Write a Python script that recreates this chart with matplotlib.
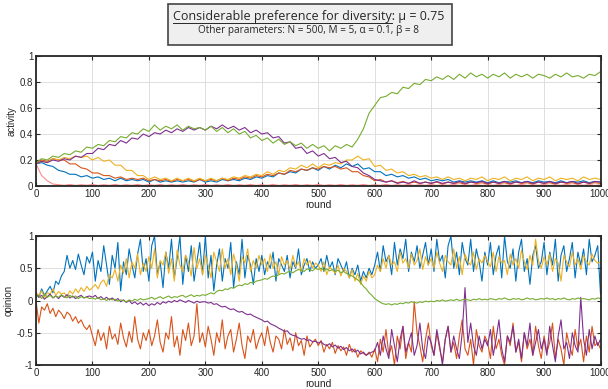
import matplotlib
matplotlib.use("Agg")
import matplotlib.pyplot as plt
from matplotlib.patches import Rectangle
from matplotlib.lines import Line2D
import numpy as np

# --- data (activity every 10 rounds, opinion every 5) ---
rounds_act = np.arange(0, 1001, 10)
rounds_op = np.arange(0, 1001, 5)

act_green = [0.18, 0.21, 0.20, 0.23, 0.22, 0.25, 0.24, 0.27, 0.26, 0.30,
             0.29, 0.32, 0.31, 0.35, 0.34, 0.38, 0.37, 0.41, 0.40, 0.44,
             0.42, 0.47, 0.43, 0.46, 0.44, 0.47, 0.43, 0.46, 0.44, 0.45,
             0.43, 0.46, 0.42, 0.45, 0.41, 0.44, 0.40, 0.42, 0.37, 0.39,
             0.35, 0.37, 0.33, 0.36, 0.32, 0.34, 0.31, 0.33, 0.29, 0.32,
             0.29, 0.31, 0.27, 0.31, 0.29, 0.32, 0.30, 0.36, 0.44, 0.56,
             0.62, 0.68, 0.69, 0.72, 0.71, 0.76, 0.75, 0.79, 0.78, 0.82,
             0.81, 0.84, 0.82, 0.85, 0.82, 0.86, 0.83, 0.87, 0.84, 0.86,
             0.83, 0.86, 0.84, 0.87, 0.83, 0.86, 0.84, 0.86, 0.83, 0.86,
             0.85, 0.83, 0.86, 0.84, 0.87, 0.84, 0.85, 0.83, 0.86, 0.85,
             0.88]
act_purple = [0.17, 0.19, 0.18, 0.20, 0.19, 0.21, 0.20, 0.23, 0.22, 0.25,
              0.25, 0.29, 0.28, 0.32, 0.31, 0.35, 0.33, 0.37, 0.36, 0.40,
              0.38, 0.41, 0.40, 0.43, 0.41, 0.44, 0.42, 0.45, 0.43, 0.45,
              0.43, 0.46, 0.44, 0.47, 0.44, 0.46, 0.43, 0.45, 0.41, 0.43,
              0.40, 0.41, 0.37, 0.38, 0.33, 0.34, 0.29, 0.30, 0.25, 0.27,
              0.23, 0.25, 0.21, 0.22, 0.18, 0.19, 0.15, 0.14, 0.10, 0.08,
              0.05, 0.04, 0.03, 0.04, 0.02, 0.03, 0.02, 0.04, 0.02, 0.03,
              0.02, 0.035, 0.02, 0.03, 0.02, 0.035, 0.02, 0.03, 0.025, 0.035,
              0.02, 0.03, 0.02, 0.035, 0.02, 0.03, 0.025, 0.035, 0.02, 0.03,
              0.02, 0.035, 0.02, 0.03, 0.025, 0.035, 0.02, 0.03, 0.02, 0.035,
              0.03]
act_blue = [0.17, 0.18, 0.16, 0.15, 0.12, 0.11, 0.09, 0.09, 0.07, 0.08,
            0.06, 0.07, 0.05, 0.06, 0.04, 0.06, 0.04, 0.05, 0.04, 0.05,
            0.03, 0.05, 0.03, 0.04, 0.03, 0.04, 0.03, 0.04, 0.03, 0.05,
            0.03, 0.04, 0.03, 0.05, 0.04, 0.05, 0.04, 0.06, 0.05, 0.07,
            0.06, 0.08, 0.07, 0.10, 0.09, 0.11, 0.10, 0.13, 0.12, 0.14,
            0.12, 0.15, 0.13, 0.16, 0.14, 0.17, 0.15, 0.17, 0.13, 0.14,
            0.11, 0.11, 0.08, 0.09, 0.07, 0.08, 0.06, 0.07, 0.05, 0.06,
            0.04, 0.05, 0.04, 0.05, 0.03, 0.04, 0.03, 0.04, 0.03, 0.04,
            0.025, 0.04, 0.025, 0.035, 0.03, 0.04, 0.025, 0.035, 0.025, 0.04,
            0.03, 0.035, 0.025, 0.04, 0.025, 0.035, 0.03, 0.04, 0.025, 0.035,
            0.03]
act_orange = [0.18, 0.20, 0.19, 0.21, 0.20, 0.20, 0.17, 0.17, 0.14, 0.13,
              0.10, 0.10, 0.08, 0.08, 0.06, 0.07, 0.05, 0.06, 0.05, 0.06,
              0.04, 0.05, 0.04, 0.05, 0.035, 0.05, 0.04, 0.05, 0.035, 0.05,
              0.04, 0.05, 0.04, 0.06, 0.04, 0.06, 0.05, 0.07, 0.06, 0.08,
              0.07, 0.09, 0.08, 0.10, 0.09, 0.12, 0.11, 0.13, 0.12, 0.14,
              0.13, 0.15, 0.14, 0.15, 0.13, 0.14, 0.11, 0.11, 0.08, 0.07,
              0.04, 0.05, 0.03, 0.04, 0.025, 0.035, 0.02, 0.03, 0.02, 0.03,
              0.02, 0.03, 0.015, 0.03, 0.02, 0.025, 0.015, 0.03, 0.02, 0.025,
              0.015, 0.03, 0.02, 0.025, 0.015, 0.03, 0.02, 0.025, 0.015, 0.03,
              0.02, 0.025, 0.015, 0.03, 0.02, 0.025, 0.015, 0.03, 0.02, 0.025,
              0.02]
act_yellow = [0.17, 0.19, 0.18, 0.21, 0.20, 0.22, 0.21, 0.23, 0.22, 0.23,
              0.20, 0.22, 0.19, 0.20, 0.16, 0.16, 0.12, 0.12, 0.08, 0.08,
              0.05, 0.07, 0.05, 0.06, 0.04, 0.06, 0.04, 0.06, 0.04, 0.06,
              0.04, 0.06, 0.04, 0.06, 0.05, 0.07, 0.06, 0.08, 0.07, 0.09,
              0.08, 0.11, 0.09, 0.12, 0.11, 0.14, 0.13, 0.16, 0.14, 0.17,
              0.14, 0.17, 0.16, 0.18, 0.17, 0.20, 0.20, 0.23, 0.20, 0.21,
              0.15, 0.16, 0.12, 0.13, 0.10, 0.11, 0.08, 0.09, 0.07, 0.08,
              0.06, 0.07, 0.05, 0.07, 0.05, 0.06, 0.04, 0.06, 0.05, 0.07,
              0.04, 0.06, 0.05, 0.07, 0.04, 0.06, 0.05, 0.07, 0.04, 0.06,
              0.05, 0.07, 0.04, 0.06, 0.05, 0.06, 0.04, 0.07, 0.05, 0.06,
              0.05]
act_pink = [0.17, 0.08, 0.04, 0.015, 0.01, 0.005, 0.012, 0.004, 0.01, 0.005,
            0.012, 0.004, 0.01, 0.005, 0.012, 0.004, 0.01, 0.005, 0.012, 0.004,
            0.01, 0.005, 0.012, 0.004, 0.01, 0.005, 0.012, 0.004, 0.01, 0.005,
            0.012, 0.004, 0.01, 0.005, 0.012, 0.004, 0.01, 0.005, 0.012, 0.004,
            0.01, 0.005, 0.012, 0.004, 0.01, 0.005, 0.012, 0.004, 0.01, 0.005,
            0.012, 0.004, 0.01, 0.005, 0.012, 0.004, 0.01, 0.005, 0.012, 0.004,
            0.01, 0.005, 0.012, 0.004, 0.01, 0.005, 0.012, 0.004, 0.01, 0.005,
            0.012, 0.004, 0.01, 0.005, 0.012, 0.004, 0.01, 0.005, 0.012, 0.004,
            0.01, 0.005, 0.012, 0.004, 0.01, 0.005, 0.012, 0.004, 0.01, 0.005,
            0.012, 0.004, 0.01, 0.005, 0.012, 0.004, 0.01, 0.005, 0.012, 0.004,
            0.01]
act_red = [0.0] * 101

op_blue = [0.10, 0.05, 0.18, 0.08, 0.15, 0.22, 0.12, 0.30, 0.25, 0.38, 0.45, 0.70, 0.50, 0.62, 0.48, 0.72, 0.55, 0.40, 0.68, 0.58,
           0.75, 0.30, 0.62, 0.45, 0.85, 0.55, 0.25, 0.70, 0.50, 0.90, 0.15, 0.60, 0.40, 0.80, 0.55, 0.35, 0.72, 0.95, 0.45, 0.65,
           0.30, 0.85, 1.00, 0.40, 0.60, 0.20, 0.75, 0.50, 0.95, 0.35, 0.65, 1.00, 0.25, 0.70, 0.45, 0.85, 0.30, 0.60, 0.90, 0.40,
           1.00, 0.35, 0.70, 0.15, 0.55, 0.80, 0.30, 0.65, 0.50, 0.90, 0.20, 0.60, 0.40, 0.95, 0.35, 0.70, 0.55, 0.25, 0.65, 0.45,
           0.70, 0.40, 0.60, 0.50, 0.75, 0.30, 0.65, 0.55, 0.45, 0.70, 0.35, 0.60, 0.50, 0.80, 0.40, 0.55, 0.65, 0.45, 0.60, 0.50,
           0.55, 0.65, 0.45, 0.70, 0.50, 0.60, 0.40, 0.65, 0.55, 0.45, 0.60, 0.35, 0.50, 0.40, 0.55, 0.30, 0.45, 0.35, 0.50, 0.40,
           0.55, 0.75, 0.45, 0.85, 0.60, 0.70, 0.40, 0.90, 0.55, 0.80, 0.65, 0.95, 0.45, 0.75, 0.60, 0.85, 0.50, 0.70, 0.90, 0.55,
           0.80, 0.45, 0.95, 0.60, 0.70, 0.35, 0.85, 1.00, 0.50, 0.75, 0.40, 0.90, 0.65, 0.55, 0.95, 0.45, 0.80, 0.60, 0.30, 0.75,
           0.55, 0.90, 0.40, 0.70, 0.85, 0.35, 1.00, 0.60, 0.50, 0.80, 0.30, 0.75, 0.95, 0.45, 0.65, 0.25, 0.70, 0.85, 0.50, 0.60,
           0.90, 0.40, 0.75, 0.55, 0.95, 0.30, 0.70, 0.85, 0.45, 0.65, 0.90, 0.35, 0.75, 0.55, 0.80, 0.40, 0.95, 0.60, 0.70, 0.85,
           0.10]
op_yellow = [0.12, 0.08, 0.15, 0.05, 0.12, 0.10, 0.18, 0.08, 0.14, 0.10, 0.12, 0.06, 0.15, 0.10, 0.18, 0.12, 0.20, 0.14, 0.22, 0.16,
             0.20, 0.25, 0.18, 0.28, 0.32, 0.22, 0.40, 0.35, 0.48, 0.30, 0.55, 0.42, 0.65, 0.35, 0.60, 0.50, 0.72, 0.40, 0.58, 0.45,
             0.68, 0.50, 0.80, 0.35, 0.62, 0.55, 0.75, 0.42, 0.65, 0.30, 0.78, 0.55, 0.45, 0.70, 0.60, 0.38, 0.82, 0.50, 0.65, 0.40,
             0.70, 0.55, 0.35, 0.75, 0.60, 0.45, 0.80, 0.50, 0.65, 0.40, 0.72, 0.55, 0.30, 0.68, 0.58, 0.80, 0.45, 0.62, 0.50, 0.70,
             0.55, 0.65, 0.45, 0.72, 0.50, 0.60, 0.40, 0.68, 0.55, 0.62, 0.48, 0.70, 0.52, 0.60, 0.45, 0.65, 0.55, 0.62, 0.50, 0.58,
             0.55, 0.45, 0.60, 0.40, 0.52, 0.48, 0.42, 0.55, 0.38, 0.50, 0.45, 0.35, 0.48, 0.30, 0.42, 0.25, 0.38, 0.30, 0.45, 0.35,
             0.40, 0.55, 0.45, 0.65, 0.50, 0.70, 0.55, 0.60, 0.45, 0.75, 0.58, 0.65, 0.50, 0.72, 0.55, 0.62, 0.80, 0.48, 0.68, 0.55,
             0.65, 0.50, 0.75, 0.58, 0.45, 0.70, 0.60, 0.55, 0.80, 0.50, 0.68, 0.40, 0.72, 0.60, 0.55, 0.75, 0.48, 0.65, 0.58, 0.70,
             0.60, 0.52, 0.75, 0.45, 0.68, 0.58, 0.62, 0.40, 0.72, 0.55, 0.65, 0.50, 0.78, 0.60, 0.48, 0.70, 0.55, 0.95, 0.62, 0.50,
             0.68, 0.55, 0.72, 0.45, 0.65, 0.58, 0.30, 0.70, 0.60, 0.52, 0.75, 0.55, 0.65, 0.48, 0.70, 0.60, 0.55, 0.72, 0.62, 0.58,
             0.60]
op_green = [0.05, 0.08, 0.03, 0.10, 0.05, 0.08, 0.04, 0.07, 0.05, 0.09, 0.06, 0.04, 0.08, 0.05, 0.07, 0.03, 0.06, 0.04, 0.05, 0.03,
            0.04, 0.02, 0.05, 0.01, 0.03, 0.00, 0.03, 0.01, 0.02, -0.01, 0.01, 0.00, -0.02, 0.01, -0.01, 0.02, 0.00, 0.03, 0.01, 0.02,
            0.03, 0.05, 0.02, 0.04, 0.06, 0.03, 0.05, 0.07, 0.04, 0.06, 0.05, 0.07, 0.08, 0.05, 0.07, 0.09, 0.06, 0.08, 0.07, 0.09,
            0.08, 0.10, 0.12, 0.10, 0.14, 0.16, 0.15, 0.18, 0.17, 0.20, 0.19, 0.22, 0.24, 0.23, 0.26, 0.25, 0.28, 0.27, 0.30, 0.31,
            0.32, 0.34, 0.33, 0.36, 0.38, 0.37, 0.40, 0.42, 0.41, 0.44, 0.45, 0.43, 0.46, 0.48, 0.47, 0.45, 0.49, 0.48, 0.46, 0.50,
            0.48, 0.50, 0.47, 0.49, 0.46, 0.48, 0.45, 0.47, 0.43, 0.45, 0.42, 0.40, 0.38, 0.35, 0.32, 0.28, 0.22, 0.18, 0.12, 0.08,
            0.03, 0.00, -0.03, -0.05, -0.06, -0.05, -0.07, -0.05, -0.06, -0.04, -0.05, -0.03, -0.04, -0.02, -0.03, -0.04, -0.02, -0.03, -0.01, -0.02,
            -0.01, -0.02, 0.00, -0.01, 0.01, -0.01, 0.00, 0.01, 0.00, 0.02, 0.00, 0.01, 0.02, 0.01, 0.00, 0.02, 0.01, 0.03, 0.01, 0.02,
            0.01, 0.03, 0.02, 0.01, 0.03, 0.02, 0.04, 0.02, 0.01, 0.03, 0.02, 0.03, 0.01, 0.02, 0.04, 0.02, 0.03, 0.01, 0.02, 0.03,
            0.02, 0.04, 0.02, 0.03, 0.01, 0.03, 0.02, 0.04, 0.02, 0.01, 0.03, 0.02, 0.04, 0.02, 0.03, 0.02, 0.01, 0.03, 0.02, 0.04,
            0.03]
op_purple = [0.10, 0.05, 0.08, 0.02, 0.06, 0.10, 0.04, 0.07, 0.03, 0.08, 0.05, 0.09, 0.04, 0.07, 0.03, 0.06, 0.08, 0.04, 0.06, 0.07,
             0.05, 0.08, 0.03, 0.06, 0.02, 0.05, 0.01, 0.04, 0.00, 0.03, -0.02, 0.01, -0.03, 0.00, -0.05, -0.02, -0.06, -0.03, -0.07, -0.04,
             -0.08, -0.05, -0.07, -0.03, -0.06, -0.02, -0.04, -0.01, -0.03, 0.00, -0.02, 0.01, -0.01, -0.03, 0.00, -0.02, -0.04, -0.01, -0.03, -0.02,
             -0.02, -0.04, -0.03, -0.06, -0.05, -0.08, -0.10, -0.09, -0.12, -0.14, -0.13, -0.16, -0.18, -0.17, -0.20, -0.22, -0.21, -0.24, -0.26, -0.28,
             -0.30, -0.33, -0.32, -0.36, -0.38, -0.40, -0.43, -0.45, -0.48, -0.47, -0.52, -0.54, -0.55, -0.58, -0.60, -0.59, -0.62, -0.61, -0.64, -0.63,
             -0.66, -0.64, -0.68, -0.70, -0.67, -0.72, -0.69, -0.74, -0.71, -0.76, -0.73, -0.78, -0.75, -0.80, -0.77, -0.83, -0.80, -0.85, -0.82, -0.80,
             -0.78, -0.65, -0.85, -0.55, -0.75, -0.90, -0.45, -0.70, -0.95, -0.60, -0.40, -0.80, -0.65, -0.50, -0.85, -0.70, -0.35, -0.75, -0.90, -0.55,
             -0.65, -0.85, -0.45, -0.70, -1.00, -0.60, -0.40, -0.80, -0.55, -0.75, -0.90, -0.50, 0.20, -0.65, -0.35, -0.70, -0.85, -0.55, -0.75, -0.60,
             -0.70, -0.45, -0.85, -0.60, -0.30, -0.75, -0.95, -0.55, -0.65, -0.40, -0.80, -0.60, -0.90, -0.50, -0.70, -0.35, -0.85, -0.65, -0.45, -0.75,
             -0.60, -0.85, -0.40, -0.70, -0.95, -0.55, -0.30, -0.75, -0.65, -0.90, -0.50, -0.70, -0.80, 0.05, -0.60, -0.85, -0.45, -0.75, -0.55, -0.70,
             -0.60]
op_orange = [0.00, -0.35, -0.10, -0.15, -0.05, -0.20, -0.12, -0.25, -0.15, -0.20, -0.28, -0.18, -0.22, -0.32, -0.25, -0.35, -0.30, -0.40, -0.45, -0.38,
             -0.55, -0.70, -0.45, -0.62, -0.50, -0.75, -0.40, -0.60, -0.52, -0.68, -0.35, -0.58, -0.72, -0.48, -0.65, -0.25, -0.60, -0.75, -0.50, -0.62,
             -0.45, -0.70, -0.55, -0.30, -0.65, -0.80, -0.50, -0.60, -0.25, -0.72, -0.55, -0.85, -0.45, -0.62, -0.35, -0.70, -0.55, -0.05, -0.65, -0.50,
             -0.72, -0.40, -0.60, -0.85, -0.50, -0.65, -0.30, -0.75, -0.55, -0.45, -0.80, -0.60, -0.35, -0.70, -0.90, -0.55, -0.65, -0.45, -0.75, -0.60,
             -0.50, -0.70, -0.40, -0.65, -0.80, -0.55, -0.60, -0.75, -0.45, -0.68, -0.58, -0.78, -0.50, -0.70, -0.62, -0.85, -0.55, -0.72, -0.65, -0.60,
             -0.70, -0.62, -0.80, -0.68, -0.75, -0.65, -0.82, -0.70, -0.78, -0.72, -0.85, -0.68, -0.80, -0.75, -0.88, -0.78, -0.82, -0.85, -0.80, -0.88,
             -0.75, -0.95, -0.60, -0.80, -0.45, -0.85, -0.70, -1.00, -0.55, -0.75, -0.40, -0.90, -0.65, -0.80, -0.02, -0.50, -0.70, -0.95, -0.60, -0.35,
             -0.70, -0.85, -0.50, -0.75, -0.95, -0.60, -0.40, -0.80, -0.65, -0.90, -0.55, -0.30, -0.75, -0.85, -0.60, -1.00, -0.45, -0.70, -0.80, -0.55,
             -0.65, -0.90, -0.40, -0.75, -0.60, -0.85, -1.00, -0.55, -0.70, -0.35, -0.80, -0.65, -0.95, -0.50, -0.75, -0.60, -0.85, -0.40, -0.70, -0.90,
             -0.55, -0.80, -0.65, -0.35, -0.90, -0.60, -0.75, -1.00, -0.50, -0.70, -0.85, -0.45, -0.75, -0.60, -0.95, -0.55, -0.80, -0.40, -0.70, -0.65,
             -0.75]

# matlab-ish colours
BLUE = '#0072BD'
ORANGE = '#D95319'
YELLOW = '#EDB120'
PURPLE = '#7E2F8E'
GREEN = '#77AC30'
RED = '#E8000B'
PINK = '#FF8C8C'
TXT = '#262626'

plt.rcParams['font.family'] = ['Liberation Sans', 'DejaVu Sans']

fig = plt.figure(figsize=(6.08, 3.89), dpi=100)
ax1 = fig.add_axes([0.0592, 0.5219, 0.9285, 0.334])
ax2 = fig.add_axes([0.0592, 0.0617, 0.9285, 0.3316])


def style(ax, ylim, yticks, ylabel):
    ax.set_xlim(0, 1000)
    ax.set_ylim(*ylim)
    ax.set_xticks(np.arange(0, 1001, 100))
    ax.set_yticks(yticks)
    ax.grid(True, color='#dedede', linewidth=0.7)
    ax.set_axisbelow(True)
    ax.tick_params(direction='in', top=True, right=True, length=3,
                   width=0.8, labelsize=7, colors=TXT, pad=2)
    for s in ax.spines.values():
        s.set_linewidth(1.3)
        s.set_color(TXT)
    ax.set_xlabel('round', fontsize=7.5, color=TXT, labelpad=1)
    ax.set_ylabel(ylabel, fontsize=7, color=TXT, labelpad=2)


# top panel: activity
lw = 0.8
ax1.plot(rounds_act, act_red, color=RED, lw=1.0)
ax1.plot(rounds_act, act_pink, color=PINK, lw=lw)
ax1.plot(rounds_act, act_blue, color=BLUE, lw=lw)
ax1.plot(rounds_act, act_orange, color=ORANGE, lw=lw)
ax1.plot(rounds_act, act_yellow, color=YELLOW, lw=lw)
ax1.plot(rounds_act, act_purple, color=PURPLE, lw=lw)
ax1.plot(rounds_act, act_green, color=GREEN, lw=lw)
style(ax1, (0, 1), [0, 0.2, 0.4, 0.6, 0.8, 1], 'activity')
ax1.set_yticklabels(['0', '0.2', '0.4', '0.6', '0.8', '1'])

# bottom panel: opinion
ax2.plot(rounds_op, op_blue, color=BLUE, lw=lw)
ax2.plot(rounds_op, op_orange, color=ORANGE, lw=lw)
ax2.plot(rounds_op, op_yellow, color=YELLOW, lw=lw)
ax2.plot(rounds_op, op_purple, color=PURPLE, lw=lw)
ax2.plot(rounds_op, op_green, color=GREEN, lw=lw)
style(ax2, (-1, 1), [-1, -0.5, 0, 0.5, 1], 'opinion')
ax2.set_yticklabels(['-1', '-0.5', '0', '0.5', '1'])

# title box
H = 389.0
W = 608.0
fig.patches.append(Rectangle((168 / W, 1 - 45 / H), 284 / W, 41 / H,
                             transform=fig.transFigure, facecolor='#efefef',
                             edgecolor='#444444', linewidth=1.2))
title_font = ['Open Sans', 'DejaVu Sans']
under = 'Considerable preference for diversity'
t_full = fig.text(309 / W, 1 - 20 / H, under + ': \u03bc = 0.75', ha='center',
                  va='baseline', fontsize=9, color=TXT, family=title_font)
fig.text(309 / W, 1 - 33 / H,
         'Other parameters: N = 500, M = 5, \u03b1 = 0.1, \u03b2 = 8',
         ha='center', va='baseline', fontsize=7.2, color=TXT, family=title_font)

# underline the first part of the heading
r = fig.canvas.get_renderer()
bb = t_full.get_window_extent(r)
tmp = fig.text(0, 0, under, fontsize=9, family=title_font)
wu = tmp.get_window_extent(r).width
tmp.remove()
x0 = bb.x0 / fig.bbox.width
x1 = (bb.x0 + wu) / fig.bbox.width
yu = 1 - 22.5 / H
fig.add_artist(Line2D([x0, x1], [yu, yu], transform=fig.transFigure,
                      color=TXT, linewidth=0.7))

fig.savefig('out.png', dpi=100)
